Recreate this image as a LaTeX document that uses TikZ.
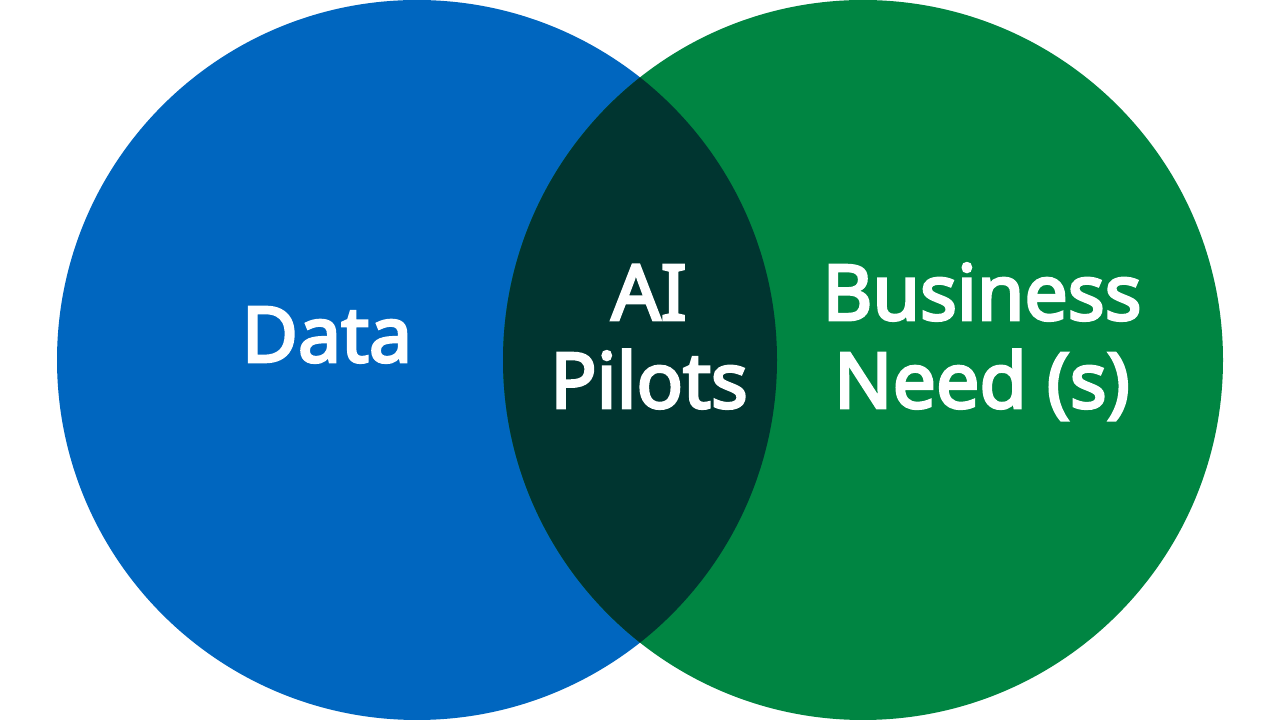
\documentclass[tikz,border=0pt]{standalone}
\usepackage{fontspec}
\newfontfamily\lblfont{Noto Sans}[FakeBold=3.5]
\definecolor{dblue}{HTML}{0066BF}
\definecolor{dgreen}{HTML}{008542}
\definecolor{ddark}{HTML}{003530}
\begin{document}
\begin{tikzpicture}[x=1pt,y=1pt,
  lbl/.style={text=white,font=\lblfont\fontsize{77}{88}\selectfont,align=center,inner sep=0pt}]
\useasboundingbox (0,0) rectangle (1280,720);
\fill[white] (0,0) rectangle (1280,720);
\coordinate (cl) at (417,360);
\coordinate (cr) at (863,360);
\fill[dblue] (cl) circle[radius=360];
\fill[dgreen] (cr) circle[radius=360];
\begin{scope}
\clip (cl) circle[radius=360];
\fill[ddark] (cr) circle[radius=360];
\end{scope}
\node[lbl,anchor=base] (data) at (327,358) {Data};
\node[lbl,anchor=base] (ai) at (649,312) {AI\\Pilots};
\node[lbl,anchor=base] (biz) at (982,312) {Business\\Need (s)};
\end{tikzpicture}
\end{document}
